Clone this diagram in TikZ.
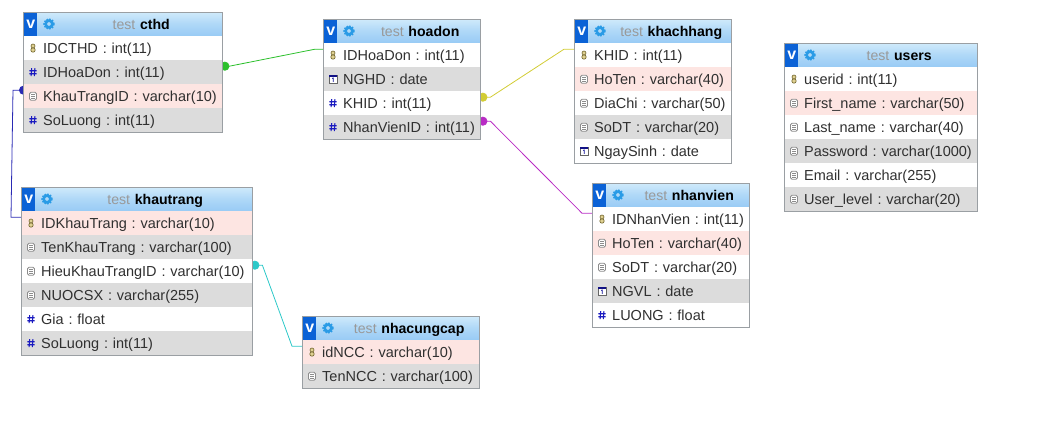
\documentclass[tikz,border=0pt]{standalone}
\usepackage{fontspec}
\setmainfont{Liberation Sans}
\frenchspacing
\usetikzlibrary{arrows.meta, positioning, calc, fit, backgrounds}
\definecolor{rowgrey}{HTML}{DCDCDC}
\definecolor{rowpink}{HTML}{FDE5E2}
\definecolor{frameg}{HTML}{9A9FA3}
\definecolor{keygold}{HTML}{C9B24A}
\definecolor{gearblue}{HTML}{2A9BE6}
\definecolor{numblue}{HTML}{1A1AC0}
\definecolor{vblue}{HTML}{0B62D6}
\definecolor{reltext}{HTML}{303030}
\definecolor{titletop}{HTML}{CFEAFB}
\definecolor{titlebot}{HTML}{98CBF5}
\definecolor{relgreen}{HTML}{2CC02C}
\definecolor{relyellow}{HTML}{D2CC34}
\definecolor{relmagenta}{HTML}{B82CC4}
\definecolor{relcyan}{HTML}{2CC8C8}
\definecolor{relblue}{HTML}{2A2AB4}
\begin{document}
\begin{tikzpicture}[
    x=1pt, y=-1pt,
    tabrow/.style={anchor=north west, inner sep=0pt, minimum height=24pt, text height=11pt, text depth=1pt, font=\fontsize{14.5}{14.5}\selectfont},
    rowtext/.style={tabrow, align=left, text=reltext, execute at begin node={\hspace*{20pt}}},
    roww/.style={rowtext, fill=white},
    rowg/.style={rowtext, fill=rowgrey},
    rowp/.style={rowtext, fill=rowpink},
    titlebar/.style={tabrow, align=center, top color=titletop, bottom color=titlebot, middle color=titlebot!60!titletop, font=\fontsize{14.1}{14.1}\selectfont, execute at begin node={\hspace*{37pt}}},
    vbox/.style={anchor=north west, fill=vblue, text=white, inner sep=0pt, minimum width=13pt, minimum height=23pt, font=\fontsize{16}{16}\selectfont\bfseries},
    tblframe/.style={draw=frameg, line width=1pt, inner sep=0pt},
    rel/.style={line width=0.8pt, {Circle[length=9pt,width=9pt]}-},
    keyic/.pic={
        \draw[keygold!55!black, fill=keygold!60!white, line width=0.6pt] (0,-2.2) circle (2pt) (0,1.8) circle (2.2pt);
    },
    numic/.pic={
        \draw[numblue, line width=1.1pt] (-1.3,-4) -- (-1.9,4) (1.9,-4) -- (1.3,4) (-3.6,-1.5) -- (3.6,-1.5) (-3.6,1.5) -- (3.6,1.5);
    },
    txtic/.pic={
        \draw[black!45, fill=white, line width=0.8pt, rounded corners=1.5pt] (-3.5,-4) rectangle (3.5,4);
        \draw[black!45, line width=0.6pt] (-2,-1.5) -- (2,-1.5) (-2,0.5) -- (2,0.5) (-2,2.3) -- (2,2.3);
    },
    dateic/.pic={
        \draw[black!60, fill=white, line width=0.7pt] (-4,-4) rectangle (4,4);
        \fill[numblue!70!black] (-4,-4) rectangle (4,-2.2);
        \draw[numblue!80!black, line width=0.8pt] (-0.8,-0.8) -- (0.3,-1.2) -- (0.3,2.6);
    },
    gearic/.pic={
        \draw[gearblue, line width=2.6pt] (0,0) circle (3.4pt);
        \draw[gearblue, line width=1.5pt, dash pattern=on 1.6pt off 1.3pt] (0,0) circle (5pt);
    },
]
\useasboundingbox (0,0) rectangle (1057,431);
% ----- table cthd
\begin{scope}[shift={(23,12)}, tabrow/.append style={text width=199pt}]
\node[titlebar] (cthd0) at (0,0) {{\color{black!40}test} \textbf{cthd}};
\node[vbox] (cthdv) at (1,1) {v}; \pic at (26,12) {gearic};
\node[roww] (cthd1) at (0,24) {IDCTHD : int(11)}; \pic at ([xshift=10pt]cthd1.west) {keyic};
\node[rowg] (cthd2) at (0,48) {IDHoaDon : int(11)}; \pic at ([xshift=10pt]cthd2.west) {numic};
\node[rowp] (cthd3) at (0,72) {KhauTrangID : varchar(10)}; \pic at ([xshift=10pt]cthd3.west) {txtic};
\node[rowg] (cthd4) at (0,96) {SoLuong : int(11)}; \pic at ([xshift=10pt]cthd4.west) {numic};
\node[tblframe, fit=(cthd0)(cthd4)] (cthdbox) {};
\end{scope}
% ----- table hoadon
\begin{scope}[shift={(323,19)}, tabrow/.append style={text width=157pt}]
\node[titlebar] (hoadon0) at (0,0) {{\color{black!40}test} \textbf{hoadon}};
\node[vbox] (hoadonv) at (1,1) {v}; \pic at (26,12) {gearic};
\node[roww] (hoadon1) at (0,24) {IDHoaDon : int(11)}; \pic at ([xshift=10pt]hoadon1.west) {keyic};
\node[rowg] (hoadon2) at (0,48) {NGHD : date}; \pic at ([xshift=10pt]hoadon2.west) {dateic};
\node[roww] (hoadon3) at (0,72) {KHID : int(11)}; \pic at ([xshift=10pt]hoadon3.west) {numic};
\node[rowg] (hoadon4) at (0,96) {NhanVienID : int(11)}; \pic at ([xshift=10pt]hoadon4.west) {numic};
\node[tblframe, fit=(hoadon0)(hoadon4)] (hoadonbox) {};
\end{scope}
% ----- table khachhang
\begin{scope}[shift={(574,19)}, tabrow/.append style={text width=157pt}]
\node[titlebar] (khach0) at (0,0) {{\color{black!40}test} \textbf{khachhang}};
\node[vbox] (khachv) at (1,1) {v}; \pic at (26,12) {gearic};
\node[roww] (khach1) at (0,24) {KHID : int(11)}; \pic at ([xshift=10pt]khach1.west) {keyic};
\node[rowp] (khach2) at (0,48) {HoTen : varchar(40)}; \pic at ([xshift=10pt]khach2.west) {txtic};
\node[roww] (khach3) at (0,72) {DiaChi : varchar(50)}; \pic at ([xshift=10pt]khach3.west) {txtic};
\node[rowg] (khach4) at (0,96) {SoDT : varchar(20)}; \pic at ([xshift=10pt]khach4.west) {txtic};
\node[roww] (khach5) at (0,120) {NgaySinh : date}; \pic at ([xshift=10pt]khach5.west) {dateic};
\node[tblframe, fit=(khach0)(khach5)] (khachbox) {};
\end{scope}
% ----- table users
\begin{scope}[shift={(784,43)}, tabrow/.append style={text width=193pt}]
\node[titlebar] (users0) at (0,0) {{\color{black!40}test} \textbf{users}};
\node[vbox] (usersv) at (1,1) {v}; \pic at (26,12) {gearic};
\node[roww] (users1) at (0,24) {userid : int(11)}; \pic at ([xshift=10pt]users1.west) {keyic};
\node[rowp] (users2) at (0,48) {First\_name : varchar(50)}; \pic at ([xshift=10pt]users2.west) {txtic};
\node[roww] (users3) at (0,72) {Last\_name : varchar(40)}; \pic at ([xshift=10pt]users3.west) {txtic};
\node[rowg] (users4) at (0,96) {Password : varchar(1000)}; \pic at ([xshift=10pt]users4.west) {txtic};
\node[roww] (users5) at (0,120) {Email : varchar(255)}; \pic at ([xshift=10pt]users5.west) {txtic};
\node[rowg] (users6) at (0,144) {User\_level : varchar(20)}; \pic at ([xshift=10pt]users6.west) {txtic};
\node[tblframe, fit=(users0)(users6)] (usersbox) {};
\end{scope}
% ----- table nhanvien
\begin{scope}[shift={(592,183)}, tabrow/.append style={text width=157pt}]
\node[titlebar] (nv0) at (0,0) {{\color{black!40}test} \textbf{nhanvien}};
\node[vbox] (nvv) at (1,1) {v}; \pic at (26,12) {gearic};
\node[roww] (nv1) at (0,24) {IDNhanVien : int(11)}; \pic at ([xshift=10pt]nv1.west) {keyic};
\node[rowp] (nv2) at (0,48) {HoTen : varchar(40)}; \pic at ([xshift=10pt]nv2.west) {txtic};
\node[roww] (nv3) at (0,72) {SoDT : varchar(20)}; \pic at ([xshift=10pt]nv3.west) {txtic};
\node[rowg] (nv4) at (0,96) {NGVL : date}; \pic at ([xshift=10pt]nv4.west) {dateic};
\node[roww] (nv5) at (0,120) {LUONG : float}; \pic at ([xshift=10pt]nv5.west) {numic};
\node[tblframe, fit=(nv0)(nv5)] (nvbox) {};
\end{scope}
% ----- table khautrang
\begin{scope}[shift={(21,187)}, tabrow/.append style={text width=231pt}]
\node[titlebar] (kt0) at (0,0) {{\color{black!40}test} \textbf{khautrang}};
\node[vbox] (ktv) at (1,1) {v}; \pic at (26,12) {gearic};
\node[rowp] (kt1) at (0,24) {IDKhauTrang : varchar(10)}; \pic at ([xshift=10pt]kt1.west) {keyic};
\node[rowg] (kt2) at (0,48) {TenKhauTrang : varchar(100)}; \pic at ([xshift=10pt]kt2.west) {txtic};
\node[roww] (kt3) at (0,72) {HieuKhauTrangID : varchar(10)}; \pic at ([xshift=10pt]kt3.west) {txtic};
\node[rowg] (kt4) at (0,96) {NUOCSX : varchar(255)}; \pic at ([xshift=10pt]kt4.west) {txtic};
\node[roww] (kt5) at (0,120) {Gia : float}; \pic at ([xshift=10pt]kt5.west) {numic};
\node[rowg] (kt6) at (0,144) {SoLuong : int(11)}; \pic at ([xshift=10pt]kt6.west) {numic};
\node[tblframe, fit=(kt0)(kt6)] (ktbox) {};
\end{scope}
% ----- table nhacungcap
\begin{scope}[shift={(302,316)}, tabrow/.append style={text width=177pt}]
\node[titlebar] (ncc0) at (0,0) {{\color{black!40}test} \textbf{nhacungcap}};
\node[vbox] (nccv) at (1,1) {v}; \pic at (26,12) {gearic};
\node[rowp] (ncc1) at (0,24) {idNCC : varchar(10)}; \pic at ([xshift=10pt]ncc1.west) {keyic};
\node[rowg] (ncc2) at (0,48) {TenNCC : varchar(100)}; \pic at ([xshift=10pt]ncc2.west) {txtic};
\node[tblframe, fit=(ncc0)(ncc2)] (nccbox) {};
\end{scope}
% ----- relations, behind the tables
\begin{scope}[on background layer]
\draw[rel, relgreen] ([xshift=-2pt,yshift=6pt]cthd2.east) -- ++(9,0) -- ([xshift=-8pt,yshift=6pt]hoadon1.west) -- ([yshift=6pt]hoadon1.west);
\draw[rel, relyellow] ([xshift=-2pt,yshift=6pt]hoadon3.east) -- ++(12,0) -- ([xshift=-10pt,yshift=6pt]khach1.west) -- ([yshift=6pt]khach1.west);
\draw[rel, relmagenta] ([xshift=-2pt,yshift=6pt]hoadon4.east) -- ++(12,0) -- ([xshift=-10pt,yshift=6pt]nv1.west) -- ([yshift=6pt]nv1.west);
\draw[rel, relcyan] ([xshift=-2pt,yshift=6pt]kt3.east) -- ++(12,0) -- ([xshift=-10pt,yshift=6pt]ncc1.west) -- ([yshift=6pt]ncc1.west);
\draw[rel, relblue] ([xshift=5pt,yshift=6pt]cthd3.west) -- ++(-15,0) -- ([xshift=-10pt,yshift=6pt]kt1.west) -- ([yshift=6pt]kt1.west);
\end{scope}
\end{tikzpicture}
\end{document}
